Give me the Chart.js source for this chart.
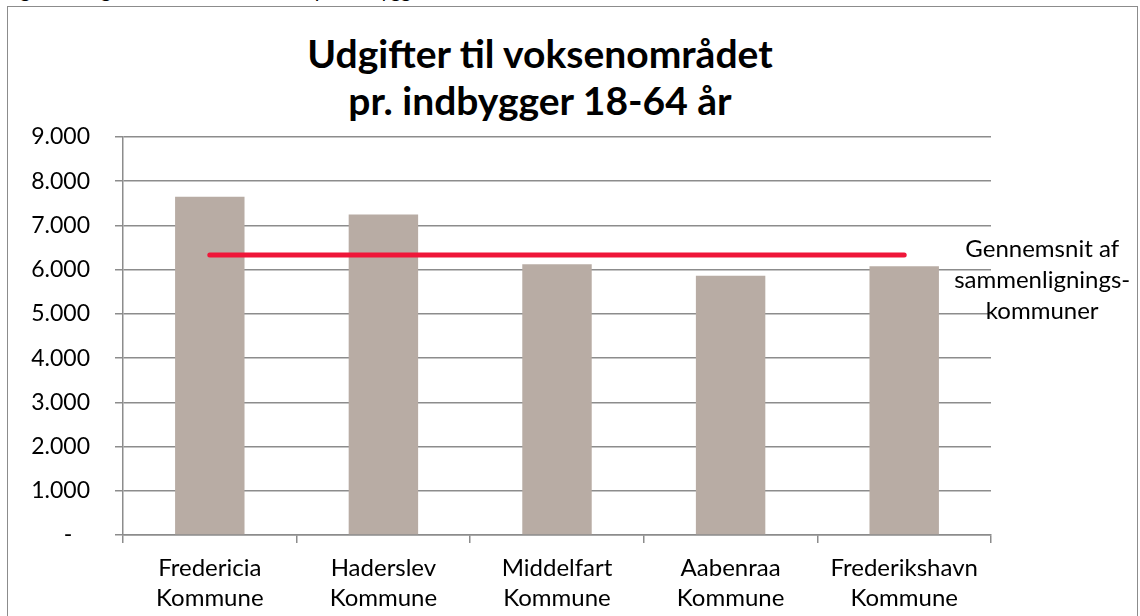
<!DOCTYPE html>
<html>
<head>
<meta charset="utf-8">
<script src="https://cdn.jsdelivr.net/npm/chart.js@4/dist/chart.umd.min.js"></script>
<style>
  html, body { margin: 0; padding: 0; background: #fff; }
  body { width: 1140px; height: 616px; position: relative; overflow: hidden; font-family: Lato, sans-serif; }
  #caption { position: absolute; left: 4px; top: -20px; font-size: 20px; line-height: 20px; white-space: nowrap; color: #000; }
  #frame { position: absolute; left: 7px; top: 6px; width: 1129px; height: 640px; border: 1.5px solid #8c8c8c; }
  #titel { position: absolute; left: 0; top: 30px; width: 1080px; text-align: center; font-size: 39px; line-height: 47px; font-weight: bold; color: #000; }
  #wrap { position: absolute; left: 0; top: 0; width: 1140px; height: 616px; }
</style>
</head>
<body>
<div id="caption">Figur 5: Udgifter til voksenområdet pr. indbygger 18-64 år</div>
<div id="frame"></div>
<div id="titel"></div>
<div id="wrap"><canvas id="chart" width="1140" height="616"></canvas></div>
<script>
// --- Data ---
const kommuner = [
  ['Fredericia', 'Kommune'],
  ['Haderslev', 'Kommune'],
  ['Middelfart', 'Kommune'],
  ['Aabenraa', 'Kommune'],
  ['Frederikshavn', 'Kommune']
];
const udgifter = [7650, 7250, 6120, 5860, 6080];
const gennemsnit = [6330, 6330, 6330, 6330, 6330];
const gennemsnitLabel = ['Gennemsnit af', 'sammenlignings-', 'kommuner'];
const titel = ['Udgifter til voksenområdet', 'pr. indbygger 18-64 år'];

// --- Hjælpere ---
function fmtTal(v) {
  if (v === 0) return '-   ';
  return String(v).replace(/\B(?=(\d{3})+(?!\d))/g, '.');
}

const gridFarve = '#8c8c8c';
const fontFam = 'Lato, "Open Sans", sans-serif';

// titel som tekst over diagrammet
const titelEl = document.getElementById('titel');
titel.forEach(t => {
  const d = document.createElement('div');
  d.textContent = t;
  titelEl.appendChild(d);
});

// label ved enden af gennemsnitslinjen
const linjeLabel = {
  id: 'linjeLabel',
  afterDatasetsDraw(chart) {
    const meta = chart.getDatasetMeta(1);
    const last = meta.data[meta.data.length - 1];
    if (!last) return;
    const ctx = chart.ctx;
    ctx.save();
    ctx.font = '24px ' + fontFam;
    ctx.fillStyle = '#000';
    ctx.textAlign = 'center';
    ctx.textBaseline = 'alphabetic';
    gennemsnitLabel.forEach((t, i) => {
      ctx.fillText(t, last.x + 138, last.y + 2 + i * 31);
    });
    ctx.restore();
  }
};

new Chart(document.getElementById('chart'), {
  data: {
    labels: kommuner,
    datasets: [
      {
        type: 'bar',
        label: 'Udgifter',
        data: udgifter,
        backgroundColor: '#b8aca4',
        categoryPercentage: 1,
        barPercentage: 0.4,
        order: 2
      },
      {
        type: 'line',
        label: 'Gennemsnit af sammenligningskommuner',
        data: gennemsnit,
        borderColor: '#ef1639',
        borderWidth: 5,
        borderCapStyle: 'round',
        pointRadius: 0,
        fill: false,
        order: 1
      }
    ]
  },
  options: {
    responsive: false,
    animation: false,
    devicePixelRatio: 1,
    layout: { padding: { left: 10, right: 149, top: 137, bottom: 0 } },
    plugins: {
      legend: { display: false },
      tooltip: { enabled: false },
      title: { display: false }
    },
    scales: {
      x: {
        offset: true,
        grid: { offset: true, drawOnChartArea: false, drawTicks: true, tickLength: 8, color: gridFarve, lineWidth: 1.5 },
        border: { color: gridFarve, width: 1.5 },
        ticks: { color: '#000', font: { family: fontFam, size: 24, lineHeight: 1.22 }, padding: 11, maxRotation: 0, autoSkip: false },
        afterFit(scale) { scale.height = 81; }
      },
      y: {
        min: 0,
        max: 9000,
        grid: { color: gridFarve, lineWidth: 1.5, tickLength: 8 },
        border: { color: gridFarve, width: 1.5 },
        ticks: { stepSize: 1000, color: '#000', font: { family: fontFam, size: 23 }, padding: 25, callback: v => fmtTal(v) },
        afterFit(scale) { scale.width = 113; }
      }
    }
  },
  plugins: [linjeLabel]
});
</script>
</body>
</html>
